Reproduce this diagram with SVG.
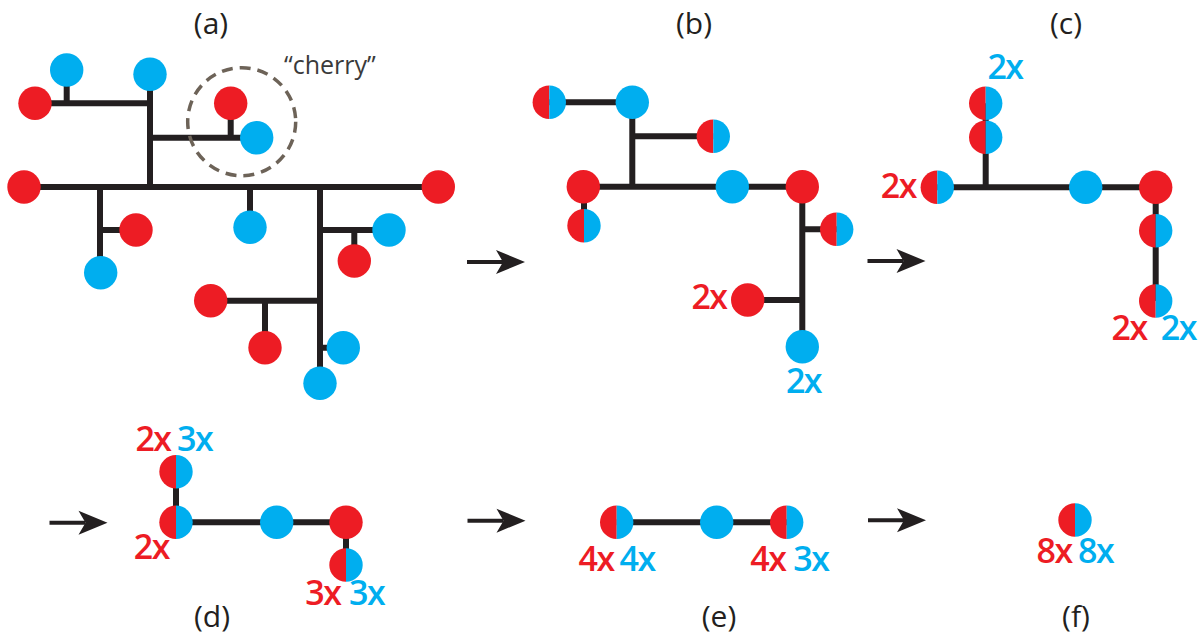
<svg xmlns="http://www.w3.org/2000/svg" xmlns:xlink="http://www.w3.org/1999/xlink" width="1204" height="636" viewBox="0 0 1204 636">
  <style>
    .edge { fill: none; stroke: #231f20; stroke-width: 6; stroke-linecap: butt; }
    .red { fill: #ed1c24; }
    .blue { fill: #00aeef; }
    .cap { font-family: "Open Sans", "Liberation Sans", sans-serif; font-size: 30px; fill: #231f20; text-anchor: middle; }
    .cnt { font-family: "Open Sans", "Liberation Sans", sans-serif; font-size: 34px; font-weight: 600; text-anchor: middle; letter-spacing: -1.5px; }
    .cnt.r { fill: #ed1c24; }
    .cnt.b { fill: #00aeef; }
    .note { font-family: "Open Sans", "Liberation Sans", sans-serif; font-size: 25px; fill: #3a3a3a; }
    .ring { fill: none; stroke: #6d6358; stroke-width: 3.5; stroke-dasharray: 11 7; }
  </style>
  <defs>
    <!-- merged leaf: red half on the left, blue half on the right -->
    <g id="half">
      <path class="red" d="M0,-16.7 A16.7,16.7 0 0 0 0,16.7 Z"/>
      <path class="blue" d="M0,-16.7 A16.7,16.7 0 0 1 0,16.7 Z"/>
    </g>
    <circle id="rdot" class="red" r="16.7"/>
    <circle id="bdot" class="blue" r="16.7"/>
    <!-- step arrow, tip at (58,0) -->
    <g id="arrow">
      <path d="M0,0 H36" stroke="#231f20" stroke-width="4"/>
      <path d="M58,0 L29,-12 L36,0 L29,12 Z" fill="#231f20"/>
    </g>
  </defs>

  <rect width="1204" height="636" fill="#ffffff"/>

  <!-- panel captions -->
  <g id="captions">
    <text class="cap" x="211" y="34">(a)</text>
    <text class="cap" x="694" y="34">(b)</text>
    <text class="cap" x="1066" y="34">(c)</text>
    <text class="cap" x="212" y="627">(d)</text>
    <text class="cap" x="719" y="627">(e)</text>
    <text class="cap" x="1076" y="627">(f)</text>
  </g>

  <!-- step arrows between panels -->
  <g id="arrows">
    <use xlink:href="#arrow" x="467" y="262"/>
    <use xlink:href="#arrow" x="867.5" y="261"/>
    <use xlink:href="#arrow" x="49.5" y="522.7"/>
    <use xlink:href="#arrow" x="467.5" y="520.7"/>
    <use xlink:href="#arrow" x="868" y="520.3"/>
  </g>

  <!-- tree edges -->
  <g id="connectors">
    <!-- (a) -->
    <path class="edge" d="M35,103.3 H150 M66.7,70 V103.3 M150,74.3 V187 M150,137.7 H256.7 M230.7,103.3 V137.7"/>
    <path class="edge" d="M24,187 H438.3 M100,187 V272.7 M100,230 H136 M250,187 V227.3"/>
    <path class="edge" d="M320,187 V383.3 M320,230 H389 M354.3,230 V261 M210.7,300.7 H320 M265,300.7 V347.7 M320,347.7 H343.3"/>
    <!-- (b) -->
    <path class="edge" d="M549.3,102.3 H632.3 V186.7 M632.3,136.3 H713.3 M583.3,186.7 H802.3 M584,186.7 V225.7 M802.3,186.7 V346.7 M802.3,229.3 H836.7 M747.7,300 H802.3"/>
    <!-- (c) -->
    <path class="edge" d="M985.7,103.3 V187.3 M937.3,187.3 H1155.7 V301"/>
    <!-- (d) -->
    <path class="edge" d="M176,471.7 V522.3 H346 V565"/>
    <!-- (e) -->
    <path class="edge" d="M616.7,522.3 H786.7"/>
  </g>

  <!-- panel (a): original tree -->
  <g id="cherry-ring">
    <circle class="ring" cx="241.7" cy="121.7" r="54"/>
    <text class="note" x="284" y="74">“cherry”</text>
  </g>
  <g id="a-n1"><use xlink:href="#bdot" x="66.7" y="70"/></g>
  <g id="a-n2"><use xlink:href="#rdot" x="35" y="103.3"/></g>
  <g id="a-n3"><use xlink:href="#bdot" x="150" y="74.3"/></g>
  <g id="a-n4"><use xlink:href="#rdot" x="230.7" y="103.3"/></g>
  <g id="a-n5"><use xlink:href="#bdot" x="256.7" y="137.7"/></g>
  <g id="a-n6"><use xlink:href="#rdot" x="24" y="187"/></g>
  <g id="a-n7"><use xlink:href="#rdot" x="438.3" y="187"/></g>
  <g id="a-n8"><use xlink:href="#rdot" x="136" y="230"/></g>
  <g id="a-n9"><use xlink:href="#bdot" x="100.7" y="272.7"/></g>
  <g id="a-n10"><use xlink:href="#bdot" x="250" y="227.3"/></g>
  <g id="a-n11"><use xlink:href="#bdot" x="389" y="230"/></g>
  <g id="a-n12"><use xlink:href="#rdot" x="354.3" y="261"/></g>
  <g id="a-n13"><use xlink:href="#rdot" x="210.7" y="300.7"/></g>
  <g id="a-n14"><use xlink:href="#rdot" x="265" y="347.7"/></g>
  <g id="a-n15"><use xlink:href="#bdot" x="343.3" y="347.7"/></g>
  <g id="a-n16"><use xlink:href="#bdot" x="320" y="383.3"/></g>

  <!-- panel (b) -->
  <g id="b-n1"><use xlink:href="#half" x="549.3" y="102.3"/></g>
  <g id="b-n2"><use xlink:href="#bdot" x="632.3" y="102.3"/></g>
  <g id="b-n3"><use xlink:href="#half" x="713.3" y="136.3"/></g>
  <g id="b-n4"><use xlink:href="#rdot" x="583.3" y="186.7"/></g>
  <g id="b-n5"><use xlink:href="#half" x="584" y="225.7"/></g>
  <g id="b-n6"><use xlink:href="#bdot" x="732.3" y="186.7"/></g>
  <g id="b-n7"><use xlink:href="#rdot" x="802.3" y="186.7"/></g>
  <g id="b-n8"><use xlink:href="#half" x="836.7" y="229.3"/></g>
  <g id="b-n9"><use xlink:href="#rdot" x="747.7" y="300"/><text class="cnt r" x="709" y="309.3">2x</text></g>
  <g id="b-n10"><use xlink:href="#bdot" x="802.3" y="346.7"/><text class="cnt b" x="803.5" y="392.5">2x</text></g>

  <!-- panel (c) -->
  <g id="c-n1"><use xlink:href="#half" x="985.7" y="103.3"/><text class="cnt b" x="1005" y="79.3">2x</text></g>
  <g id="c-n2"><use xlink:href="#half" x="985.7" y="137.3"/></g>
  <g id="c-n3"><use xlink:href="#half" x="937.3" y="187.3"/><text class="cnt r" x="898.3" y="198.3">2x</text></g>
  <g id="c-n4"><use xlink:href="#bdot" x="1085.7" y="187.3"/></g>
  <g id="c-n5"><use xlink:href="#rdot" x="1155.7" y="187.3"/></g>
  <g id="c-n6"><use xlink:href="#half" x="1155.7" y="230.7"/></g>
  <g id="c-n7"><use xlink:href="#half" x="1155.7" y="301"/><text class="cnt r" x="1129.2" y="340">2x</text><text class="cnt b" x="1178.3" y="340">2x</text></g>

  <!-- panel (d) -->
  <g id="d-n1"><use xlink:href="#half" x="176" y="471.7"/><text class="cnt r" x="153" y="450.7">2x</text><text class="cnt b" x="194.7" y="450.7">3x</text></g>
  <g id="d-n2"><use xlink:href="#half" x="176" y="522.3"/><text class="cnt r" x="151.3" y="559.3">2x</text></g>
  <g id="d-n3"><use xlink:href="#bdot" x="276.7" y="522.3"/></g>
  <g id="d-n4"><use xlink:href="#rdot" x="346" y="522.3"/></g>
  <g id="d-n5"><use xlink:href="#half" x="346" y="565"/><text class="cnt r" x="322.8" y="605">3x</text><text class="cnt b" x="366.7" y="605">3x</text></g>

  <!-- panel (e) -->
  <g id="e-n1"><use xlink:href="#half" x="616.7" y="522.3"/><text class="cnt r" x="596.2" y="570.7">4x</text><text class="cnt b" x="637.2" y="570.7">4x</text></g>
  <g id="e-n2"><use xlink:href="#bdot" x="716.7" y="522.3"/></g>
  <g id="e-n3"><use xlink:href="#half" x="786.7" y="522.3"/><text class="cnt r" x="767.8" y="570.7">4x</text><text class="cnt b" x="810.8" y="570.7">3x</text></g>

  <!-- panel (f) -->
  <g id="f-n1"><use xlink:href="#half" x="1075" y="520"/><text class="cnt r" x="1054.2" y="563.3">8x</text><text class="cnt b" x="1095.7" y="563.3">8x</text></g>
</svg>
